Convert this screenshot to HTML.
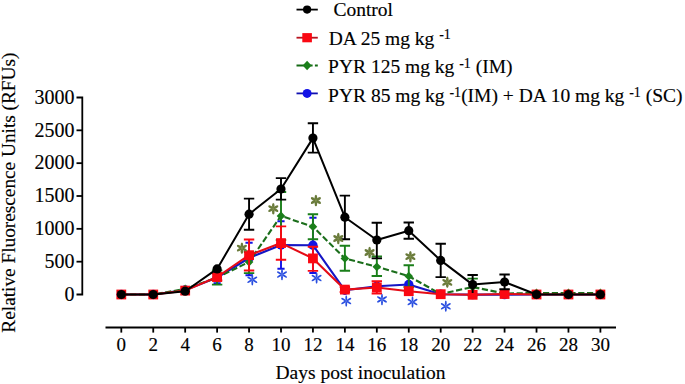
<!DOCTYPE html>
<html><head><meta charset="utf-8"><style>
html,body{margin:0;padding:0;background:#fff;}
svg{display:block;}
.t{font-family:"Liberation Serif",serif;font-size:19px;fill:#000;stroke:#000;stroke-width:0.15px;}
.lg{font-size:19.5px;}
.yt{font-size:20px;}
.sup{font-size:14px;}
</style></head><body>
<svg width="685" height="384" viewBox="0 0 685 384">
<path d="M76.5,97.5H82.3V294.5H76.5" stroke="#000" stroke-width="1.8" fill="none"/>
<path d="M76.5,261.67H82.3" stroke="#000" stroke-width="1.8"/>
<path d="M76.5,228.83H82.3" stroke="#000" stroke-width="1.8"/>
<path d="M76.5,196.00H82.3" stroke="#000" stroke-width="1.8"/>
<path d="M76.5,163.17H82.3" stroke="#000" stroke-width="1.8"/>
<path d="M76.5,130.33H82.3" stroke="#000" stroke-width="1.8"/>
<path d="M105.5,327.5H616" stroke="#000" stroke-width="1.8"/>
<path d="M121.30,327.5V332.6" stroke="#000" stroke-width="1.8"/>
<path d="M153.24,327.5V332.6" stroke="#000" stroke-width="1.8"/>
<path d="M185.18,327.5V332.6" stroke="#000" stroke-width="1.8"/>
<path d="M217.12,327.5V332.6" stroke="#000" stroke-width="1.8"/>
<path d="M249.06,327.5V332.6" stroke="#000" stroke-width="1.8"/>
<path d="M281.00,327.5V332.6" stroke="#000" stroke-width="1.8"/>
<path d="M312.94,327.5V332.6" stroke="#000" stroke-width="1.8"/>
<path d="M344.88,327.5V332.6" stroke="#000" stroke-width="1.8"/>
<path d="M376.82,327.5V332.6" stroke="#000" stroke-width="1.8"/>
<path d="M408.76,327.5V332.6" stroke="#000" stroke-width="1.8"/>
<path d="M440.70,327.5V332.6" stroke="#000" stroke-width="1.8"/>
<path d="M472.64,327.5V332.6" stroke="#000" stroke-width="1.8"/>
<path d="M504.58,327.5V332.6" stroke="#000" stroke-width="1.8"/>
<path d="M536.52,327.5V332.6" stroke="#000" stroke-width="1.8"/>
<path d="M568.46,327.5V332.6" stroke="#000" stroke-width="1.8"/>
<path d="M600.40,327.5V332.6" stroke="#000" stroke-width="1.8"/>
<text x="121.30" y="350.6" text-anchor="middle" class="t">0</text>
<text x="153.24" y="350.6" text-anchor="middle" class="t">2</text>
<text x="185.18" y="350.6" text-anchor="middle" class="t">4</text>
<text x="217.12" y="350.6" text-anchor="middle" class="t">6</text>
<text x="249.06" y="350.6" text-anchor="middle" class="t">8</text>
<text x="281.00" y="350.6" text-anchor="middle" class="t">10</text>
<text x="312.94" y="350.6" text-anchor="middle" class="t">12</text>
<text x="344.88" y="350.6" text-anchor="middle" class="t">14</text>
<text x="376.82" y="350.6" text-anchor="middle" class="t">16</text>
<text x="408.76" y="350.6" text-anchor="middle" class="t">18</text>
<text x="440.70" y="350.6" text-anchor="middle" class="t">20</text>
<text x="472.64" y="350.6" text-anchor="middle" class="t">22</text>
<text x="504.58" y="350.6" text-anchor="middle" class="t">24</text>
<text x="536.52" y="350.6" text-anchor="middle" class="t">26</text>
<text x="568.46" y="350.6" text-anchor="middle" class="t">28</text>
<text x="600.40" y="350.6" text-anchor="middle" class="t">30</text>
<text x="74.6" y="300.80" text-anchor="end" class="t yt">0</text>
<text x="74.6" y="267.97" text-anchor="end" class="t yt">500</text>
<text x="74.6" y="235.13" text-anchor="end" class="t yt">1000</text>
<text x="74.6" y="202.30" text-anchor="end" class="t yt">1500</text>
<text x="74.6" y="169.47" text-anchor="end" class="t yt">2000</text>
<text x="74.6" y="136.63" text-anchor="end" class="t yt">2500</text>
<text x="74.6" y="103.80" text-anchor="end" class="t yt">3000</text>
<text x="360.5" y="378.6" text-anchor="middle" class="t lg">Days post inoculation</text>
<text transform="translate(15.4,192.6) rotate(-90)" text-anchor="middle" class="t" style="font-size:19.3px">Relative Fluorescence Units (RFUs)</text>
<polyline points="121.30,294.50 153.24,294.50 185.18,290.00 217.12,277.50 249.06,258.00 281.00,245.00 312.94,245.20 344.88,290.30 376.82,286.30 408.76,284.50 440.70,294.30 472.64,294.60 504.58,294.60 536.52,294.50 568.46,294.50 600.40,294.50" fill="none" stroke="#1616c4" stroke-width="2.1" stroke-linejoin="round"/>
<path d="M217.12,272.00V283.10M213.52,272.00H220.72M213.52,283.10H220.72" stroke="#1212e6" stroke-width="1.9" fill="none"/>
<path d="M249.06,242.70V275.20M245.46,242.70H252.66M245.46,275.20H252.66" stroke="#1212e6" stroke-width="1.9" fill="none"/>
<path d="M281.00,221.25V268.75M277.40,221.25H284.60M277.40,268.75H284.60" stroke="#1212e6" stroke-width="1.9" fill="none"/>
<path d="M312.94,217.80V273.00M309.34,217.80H316.54M309.34,273.00H316.54" stroke="#1212e6" stroke-width="1.9" fill="none"/>
<circle cx="121.30" cy="294.50" r="4.7" fill="#1212e6"/>
<circle cx="153.24" cy="294.50" r="4.7" fill="#1212e6"/>
<circle cx="185.18" cy="290.00" r="4.7" fill="#1212e6"/>
<circle cx="217.12" cy="277.50" r="4.7" fill="#1212e6"/>
<circle cx="249.06" cy="258.00" r="4.7" fill="#1212e6"/>
<circle cx="281.00" cy="245.00" r="4.7" fill="#1212e6"/>
<circle cx="312.94" cy="245.20" r="4.7" fill="#1212e6"/>
<circle cx="344.88" cy="290.30" r="4.7" fill="#1212e6"/>
<circle cx="376.82" cy="286.30" r="4.7" fill="#1212e6"/>
<circle cx="408.76" cy="284.50" r="4.7" fill="#1212e6"/>
<circle cx="440.70" cy="294.30" r="4.7" fill="#1212e6"/>
<circle cx="472.64" cy="294.60" r="4.7" fill="#1212e6"/>
<circle cx="504.58" cy="294.60" r="4.7" fill="#1212e6"/>
<circle cx="536.52" cy="294.50" r="4.7" fill="#1212e6"/>
<circle cx="568.46" cy="294.50" r="4.7" fill="#1212e6"/>
<circle cx="600.40" cy="294.50" r="4.7" fill="#1212e6"/>
<polyline points="121.30,294.50 153.24,294.50 185.18,289.00 217.12,277.50 249.06,262.00 281.00,215.90 312.94,226.70 344.88,258.40 376.82,266.80 408.76,276.20 440.70,294.00 472.64,287.00 504.58,293.50 536.52,293.00 568.46,293.00 600.40,293.00" fill="none" stroke="#1b6e1b" stroke-width="2.1" stroke-dasharray="6.2,2.6" stroke-linejoin="round"/>
<path d="M217.12,270.50V284.60M211.92,270.50H222.32M211.92,284.60H222.32" stroke="#1a7f1a" stroke-width="1.9" fill="none"/>
<path d="M249.06,252.00V273.10M243.86,252.00H254.26M243.86,273.10H254.26" stroke="#1a7f1a" stroke-width="1.9" fill="none"/>
<path d="M281.00,192.00V240.00M275.80,192.00H286.20M275.80,240.00H286.20" stroke="#1a7f1a" stroke-width="1.9" fill="none"/>
<path d="M312.94,214.20V239.20M307.74,214.20H318.14M307.74,239.20H318.14" stroke="#1a7f1a" stroke-width="1.9" fill="none"/>
<path d="M344.88,245.80V270.80M339.68,245.80H350.08M339.68,270.80H350.08" stroke="#1a7f1a" stroke-width="1.9" fill="none"/>
<path d="M376.82,256.50V276.00M371.62,256.50H382.02M371.62,276.00H382.02" stroke="#1a7f1a" stroke-width="1.9" fill="none"/>
<path d="M408.76,265.30V287.00M403.56,265.30H413.96M403.56,287.00H413.96" stroke="#1a7f1a" stroke-width="1.9" fill="none"/>
<path d="M472.64,278.60V295.40M467.44,278.60H477.84M467.44,295.40H477.84" stroke="#1a7f1a" stroke-width="1.9" fill="none"/>
<path d="M121.30,290.10L125.60,294.50L121.30,298.90L117.00,294.50Z" fill="#1a7f1a"/>
<path d="M153.24,290.10L157.54,294.50L153.24,298.90L148.94,294.50Z" fill="#1a7f1a"/>
<path d="M185.18,284.60L189.48,289.00L185.18,293.40L180.88,289.00Z" fill="#1a7f1a"/>
<path d="M217.12,273.10L221.42,277.50L217.12,281.90L212.82,277.50Z" fill="#1a7f1a"/>
<path d="M249.06,257.60L253.36,262.00L249.06,266.40L244.76,262.00Z" fill="#1a7f1a"/>
<path d="M281.00,211.50L285.30,215.90L281.00,220.30L276.70,215.90Z" fill="#1a7f1a"/>
<path d="M312.94,222.30L317.24,226.70L312.94,231.10L308.64,226.70Z" fill="#1a7f1a"/>
<path d="M344.88,254.00L349.18,258.40L344.88,262.80L340.58,258.40Z" fill="#1a7f1a"/>
<path d="M376.82,262.40L381.12,266.80L376.82,271.20L372.52,266.80Z" fill="#1a7f1a"/>
<path d="M408.76,271.80L413.06,276.20L408.76,280.60L404.46,276.20Z" fill="#1a7f1a"/>
<path d="M440.70,289.60L445.00,294.00L440.70,298.40L436.40,294.00Z" fill="#1a7f1a"/>
<path d="M472.64,282.60L476.94,287.00L472.64,291.40L468.34,287.00Z" fill="#1a7f1a"/>
<path d="M504.58,289.10L508.88,293.50L504.58,297.90L500.28,293.50Z" fill="#1a7f1a"/>
<path d="M536.52,288.60L540.82,293.00L536.52,297.40L532.22,293.00Z" fill="#1a7f1a"/>
<path d="M568.46,288.60L572.76,293.00L568.46,297.40L564.16,293.00Z" fill="#1a7f1a"/>
<path d="M600.40,288.60L604.70,293.00L600.40,297.40L596.10,293.00Z" fill="#1a7f1a"/>
<polyline points="121.30,294.50 153.24,294.50 185.18,290.60 217.12,277.00 249.06,255.20 281.00,243.10 312.94,258.40 344.88,289.60 376.82,287.50 408.76,291.20 440.70,294.20 472.64,294.80 504.58,294.00 536.52,294.50 568.46,294.50 600.40,294.50" fill="none" stroke="#e40c16" stroke-width="2.1" stroke-linejoin="round"/>
<path d="M217.12,273.50V280.50M211.92,273.50H222.32M211.92,280.50H222.32" stroke="#fa0812" stroke-width="1.9" fill="none"/>
<path d="M249.06,239.50V270.50M243.86,239.50H254.26M243.86,270.50H254.26" stroke="#fa0812" stroke-width="1.9" fill="none"/>
<path d="M281.00,226.40V259.80M275.80,226.40H286.20M275.80,259.80H286.20" stroke="#fa0812" stroke-width="1.9" fill="none"/>
<path d="M312.94,246.70V270.90M307.74,246.70H318.14M307.74,270.90H318.14" stroke="#fa0812" stroke-width="1.9" fill="none"/>
<path d="M376.82,281.30V293.50M371.62,281.30H382.02M371.62,293.50H382.02" stroke="#fa0812" stroke-width="1.9" fill="none"/>
<path d="M344.88,287.00V292.00M339.68,287.00H350.08M339.68,292.00H350.08" stroke="#fa0812" stroke-width="1.9" fill="none"/>
<rect x="116.40" y="289.60" width="9.8" height="9.8" fill="#fa0812"/>
<rect x="148.34" y="289.60" width="9.8" height="9.8" fill="#fa0812"/>
<rect x="180.28" y="285.70" width="9.8" height="9.8" fill="#fa0812"/>
<rect x="212.22" y="272.10" width="9.8" height="9.8" fill="#fa0812"/>
<rect x="244.16" y="250.30" width="9.8" height="9.8" fill="#fa0812"/>
<rect x="276.10" y="238.20" width="9.8" height="9.8" fill="#fa0812"/>
<rect x="308.04" y="253.50" width="9.8" height="9.8" fill="#fa0812"/>
<rect x="339.98" y="284.70" width="9.8" height="9.8" fill="#fa0812"/>
<rect x="371.92" y="282.60" width="9.8" height="9.8" fill="#fa0812"/>
<rect x="403.86" y="286.30" width="9.8" height="9.8" fill="#fa0812"/>
<rect x="435.80" y="289.30" width="9.8" height="9.8" fill="#fa0812"/>
<rect x="467.74" y="289.90" width="9.8" height="9.8" fill="#fa0812"/>
<rect x="499.68" y="289.10" width="9.8" height="9.8" fill="#fa0812"/>
<rect x="531.62" y="289.60" width="9.8" height="9.8" fill="#fa0812"/>
<rect x="563.56" y="289.60" width="9.8" height="9.8" fill="#fa0812"/>
<rect x="595.50" y="289.60" width="9.8" height="9.8" fill="#fa0812"/>
<polyline points="121.30,294.50 153.24,294.50 185.18,291.20 217.12,268.90 249.06,214.20 281.00,189.00 312.94,138.10 344.88,217.20 376.82,240.00 408.76,230.70 440.70,260.40 472.64,284.60 504.58,282.00 536.52,294.50 568.46,294.50 600.40,294.50" fill="none" stroke="#000" stroke-width="2" stroke-linejoin="round"/>
<path d="M249.06,198.60V229.80M243.86,198.60H254.26M243.86,229.80H254.26" stroke="#000" stroke-width="1.9" fill="none"/>
<path d="M281.00,178.10V199.60M275.80,178.10H286.20M275.80,199.60H286.20" stroke="#000" stroke-width="1.9" fill="none"/>
<path d="M312.94,123.30V152.60M307.74,123.30H318.14M307.74,152.60H318.14" stroke="#000" stroke-width="1.9" fill="none"/>
<path d="M344.88,195.60V239.20M339.68,195.60H350.08M339.68,239.20H350.08" stroke="#000" stroke-width="1.9" fill="none"/>
<path d="M376.82,222.70V258.40M371.62,222.70H382.02M371.62,258.40H382.02" stroke="#000" stroke-width="1.9" fill="none"/>
<path d="M408.76,222.50V238.70M403.56,222.50H413.96M403.56,238.70H413.96" stroke="#000" stroke-width="1.9" fill="none"/>
<path d="M440.70,243.80V277.10M435.50,243.80H445.90M435.50,277.10H445.90" stroke="#000" stroke-width="1.9" fill="none"/>
<path d="M472.64,275.00V293.00M467.44,275.00H477.84" stroke="#000" stroke-width="1.9" fill="none"/>
<path d="M504.58,274.50V289.20M499.38,274.50H509.78M499.38,289.20H509.78" stroke="#000" stroke-width="1.9" fill="none"/>
<circle cx="121.30" cy="294.50" r="4.6" fill="#000"/>
<circle cx="153.24" cy="294.50" r="4.6" fill="#000"/>
<circle cx="185.18" cy="291.20" r="4.6" fill="#000"/>
<circle cx="217.12" cy="268.90" r="4.6" fill="#000"/>
<circle cx="249.06" cy="214.20" r="4.6" fill="#000"/>
<circle cx="281.00" cy="189.00" r="4.6" fill="#000"/>
<circle cx="312.94" cy="138.10" r="4.6" fill="#000"/>
<circle cx="344.88" cy="217.20" r="4.6" fill="#000"/>
<circle cx="376.82" cy="240.00" r="4.6" fill="#000"/>
<circle cx="408.76" cy="230.70" r="4.6" fill="#000"/>
<circle cx="440.70" cy="260.40" r="4.6" fill="#000"/>
<circle cx="472.64" cy="284.60" r="4.6" fill="#000"/>
<circle cx="504.58" cy="282.00" r="4.6" fill="#000"/>
<circle cx="536.52" cy="294.50" r="4.6" fill="#000"/>
<circle cx="568.46" cy="294.50" r="4.6" fill="#000"/>
<circle cx="600.40" cy="294.50" r="4.6" fill="#000"/>
<g transform="translate(241.90,248.20)" fill="#6a7b3b"><ellipse cx="3.0" cy="0" rx="2.75" ry="1.3" transform="rotate(-90)"/><ellipse cx="3.0" cy="0" rx="2.75" ry="1.3" transform="rotate(-30)"/><ellipse cx="3.0" cy="0" rx="2.75" ry="1.3" transform="rotate(30)"/><ellipse cx="3.0" cy="0" rx="2.75" ry="1.3" transform="rotate(90)"/><ellipse cx="3.0" cy="0" rx="2.75" ry="1.3" transform="rotate(150)"/><ellipse cx="3.0" cy="0" rx="2.75" ry="1.3" transform="rotate(210)"/><circle r="1.1" fill="#7d8f4c"/></g>
<g transform="translate(273.30,208.70)" fill="#6a7b3b"><ellipse cx="3.0" cy="0" rx="2.75" ry="1.3" transform="rotate(-90)"/><ellipse cx="3.0" cy="0" rx="2.75" ry="1.3" transform="rotate(-30)"/><ellipse cx="3.0" cy="0" rx="2.75" ry="1.3" transform="rotate(30)"/><ellipse cx="3.0" cy="0" rx="2.75" ry="1.3" transform="rotate(90)"/><ellipse cx="3.0" cy="0" rx="2.75" ry="1.3" transform="rotate(150)"/><ellipse cx="3.0" cy="0" rx="2.75" ry="1.3" transform="rotate(210)"/><circle r="1.1" fill="#7d8f4c"/></g>
<g transform="translate(315.90,200.50)" fill="#6a7b3b"><ellipse cx="3.0" cy="0" rx="2.75" ry="1.3" transform="rotate(-90)"/><ellipse cx="3.0" cy="0" rx="2.75" ry="1.3" transform="rotate(-30)"/><ellipse cx="3.0" cy="0" rx="2.75" ry="1.3" transform="rotate(30)"/><ellipse cx="3.0" cy="0" rx="2.75" ry="1.3" transform="rotate(90)"/><ellipse cx="3.0" cy="0" rx="2.75" ry="1.3" transform="rotate(150)"/><ellipse cx="3.0" cy="0" rx="2.75" ry="1.3" transform="rotate(210)"/><circle r="1.1" fill="#7d8f4c"/></g>
<g transform="translate(338.30,238.50)" fill="#6a7b3b"><ellipse cx="3.0" cy="0" rx="2.75" ry="1.3" transform="rotate(-90)"/><ellipse cx="3.0" cy="0" rx="2.75" ry="1.3" transform="rotate(-30)"/><ellipse cx="3.0" cy="0" rx="2.75" ry="1.3" transform="rotate(30)"/><ellipse cx="3.0" cy="0" rx="2.75" ry="1.3" transform="rotate(90)"/><ellipse cx="3.0" cy="0" rx="2.75" ry="1.3" transform="rotate(150)"/><ellipse cx="3.0" cy="0" rx="2.75" ry="1.3" transform="rotate(210)"/><circle r="1.1" fill="#7d8f4c"/></g>
<g transform="translate(369.60,252.50)" fill="#6a7b3b"><ellipse cx="3.0" cy="0" rx="2.75" ry="1.3" transform="rotate(-90)"/><ellipse cx="3.0" cy="0" rx="2.75" ry="1.3" transform="rotate(-30)"/><ellipse cx="3.0" cy="0" rx="2.75" ry="1.3" transform="rotate(30)"/><ellipse cx="3.0" cy="0" rx="2.75" ry="1.3" transform="rotate(90)"/><ellipse cx="3.0" cy="0" rx="2.75" ry="1.3" transform="rotate(150)"/><ellipse cx="3.0" cy="0" rx="2.75" ry="1.3" transform="rotate(210)"/><circle r="1.1" fill="#7d8f4c"/></g>
<g transform="translate(410.40,256.70)" fill="#6a7b3b"><ellipse cx="3.0" cy="0" rx="2.75" ry="1.3" transform="rotate(-90)"/><ellipse cx="3.0" cy="0" rx="2.75" ry="1.3" transform="rotate(-30)"/><ellipse cx="3.0" cy="0" rx="2.75" ry="1.3" transform="rotate(30)"/><ellipse cx="3.0" cy="0" rx="2.75" ry="1.3" transform="rotate(90)"/><ellipse cx="3.0" cy="0" rx="2.75" ry="1.3" transform="rotate(150)"/><ellipse cx="3.0" cy="0" rx="2.75" ry="1.3" transform="rotate(210)"/><circle r="1.1" fill="#7d8f4c"/></g>
<g transform="translate(447.30,282.30)" fill="#6a7b3b"><ellipse cx="3.0" cy="0" rx="2.75" ry="1.3" transform="rotate(-90)"/><ellipse cx="3.0" cy="0" rx="2.75" ry="1.3" transform="rotate(-30)"/><ellipse cx="3.0" cy="0" rx="2.75" ry="1.3" transform="rotate(30)"/><ellipse cx="3.0" cy="0" rx="2.75" ry="1.3" transform="rotate(90)"/><ellipse cx="3.0" cy="0" rx="2.75" ry="1.3" transform="rotate(150)"/><ellipse cx="3.0" cy="0" rx="2.75" ry="1.3" transform="rotate(210)"/><circle r="1.1" fill="#7d8f4c"/></g>
<g transform="translate(252.30,279.80)" fill="#2a4fe0"><ellipse cx="3.0" cy="0" rx="2.75" ry="0.95" transform="rotate(-90)"/><ellipse cx="3.0" cy="0" rx="2.75" ry="0.95" transform="rotate(-30)"/><ellipse cx="3.0" cy="0" rx="2.75" ry="0.95" transform="rotate(30)"/><ellipse cx="3.0" cy="0" rx="2.75" ry="0.95" transform="rotate(90)"/><ellipse cx="3.0" cy="0" rx="2.75" ry="0.95" transform="rotate(150)"/><ellipse cx="3.0" cy="0" rx="2.75" ry="0.95" transform="rotate(210)"/><circle r="1.1" fill="#4d6ae6"/></g>
<g transform="translate(282.00,274.50)" fill="#2a4fe0"><ellipse cx="3.0" cy="0" rx="2.75" ry="0.95" transform="rotate(-90)"/><ellipse cx="3.0" cy="0" rx="2.75" ry="0.95" transform="rotate(-30)"/><ellipse cx="3.0" cy="0" rx="2.75" ry="0.95" transform="rotate(30)"/><ellipse cx="3.0" cy="0" rx="2.75" ry="0.95" transform="rotate(90)"/><ellipse cx="3.0" cy="0" rx="2.75" ry="0.95" transform="rotate(150)"/><ellipse cx="3.0" cy="0" rx="2.75" ry="0.95" transform="rotate(210)"/><circle r="1.1" fill="#4d6ae6"/></g>
<g transform="translate(316.60,278.00)" fill="#2a4fe0"><ellipse cx="3.0" cy="0" rx="2.75" ry="0.95" transform="rotate(-90)"/><ellipse cx="3.0" cy="0" rx="2.75" ry="0.95" transform="rotate(-30)"/><ellipse cx="3.0" cy="0" rx="2.75" ry="0.95" transform="rotate(30)"/><ellipse cx="3.0" cy="0" rx="2.75" ry="0.95" transform="rotate(90)"/><ellipse cx="3.0" cy="0" rx="2.75" ry="0.95" transform="rotate(150)"/><ellipse cx="3.0" cy="0" rx="2.75" ry="0.95" transform="rotate(210)"/><circle r="1.1" fill="#4d6ae6"/></g>
<g transform="translate(346.25,301.00)" fill="#2a4fe0"><ellipse cx="3.0" cy="0" rx="2.75" ry="0.95" transform="rotate(-90)"/><ellipse cx="3.0" cy="0" rx="2.75" ry="0.95" transform="rotate(-30)"/><ellipse cx="3.0" cy="0" rx="2.75" ry="0.95" transform="rotate(30)"/><ellipse cx="3.0" cy="0" rx="2.75" ry="0.95" transform="rotate(90)"/><ellipse cx="3.0" cy="0" rx="2.75" ry="0.95" transform="rotate(150)"/><ellipse cx="3.0" cy="0" rx="2.75" ry="0.95" transform="rotate(210)"/><circle r="1.1" fill="#4d6ae6"/></g>
<g transform="translate(382.00,299.40)" fill="#2a4fe0"><ellipse cx="3.0" cy="0" rx="2.75" ry="0.95" transform="rotate(-90)"/><ellipse cx="3.0" cy="0" rx="2.75" ry="0.95" transform="rotate(-30)"/><ellipse cx="3.0" cy="0" rx="2.75" ry="0.95" transform="rotate(30)"/><ellipse cx="3.0" cy="0" rx="2.75" ry="0.95" transform="rotate(90)"/><ellipse cx="3.0" cy="0" rx="2.75" ry="0.95" transform="rotate(150)"/><ellipse cx="3.0" cy="0" rx="2.75" ry="0.95" transform="rotate(210)"/><circle r="1.1" fill="#4d6ae6"/></g>
<g transform="translate(412.50,302.00)" fill="#2a4fe0"><ellipse cx="3.0" cy="0" rx="2.75" ry="0.95" transform="rotate(-90)"/><ellipse cx="3.0" cy="0" rx="2.75" ry="0.95" transform="rotate(-30)"/><ellipse cx="3.0" cy="0" rx="2.75" ry="0.95" transform="rotate(30)"/><ellipse cx="3.0" cy="0" rx="2.75" ry="0.95" transform="rotate(90)"/><ellipse cx="3.0" cy="0" rx="2.75" ry="0.95" transform="rotate(150)"/><ellipse cx="3.0" cy="0" rx="2.75" ry="0.95" transform="rotate(210)"/><circle r="1.1" fill="#4d6ae6"/></g>
<g transform="translate(445.80,306.25)" fill="#2a4fe0"><ellipse cx="3.0" cy="0" rx="2.75" ry="0.95" transform="rotate(-90)"/><ellipse cx="3.0" cy="0" rx="2.75" ry="0.95" transform="rotate(-30)"/><ellipse cx="3.0" cy="0" rx="2.75" ry="0.95" transform="rotate(30)"/><ellipse cx="3.0" cy="0" rx="2.75" ry="0.95" transform="rotate(90)"/><ellipse cx="3.0" cy="0" rx="2.75" ry="0.95" transform="rotate(150)"/><ellipse cx="3.0" cy="0" rx="2.75" ry="0.95" transform="rotate(210)"/><circle r="1.1" fill="#4d6ae6"/></g>
<path d="M296.5,9.6H317.8" stroke="#000" stroke-width="1.8"/><circle cx="307.1" cy="9.6" r="4.1" fill="#000"/>
<path d="M296.5,37.7H317.8" stroke="#b81420" stroke-width="1.8"/><rect x="302.3" y="33.1" width="9.6" height="9.2" fill="#fa0812"/>
<path d="M296.5,65.5H312.6M314.9,65.5H317.8" stroke="#146a14" stroke-width="1.8"/><path d="M307.1,60.8L311.5,65.5L307.1,70.2L302.70000000000005,65.5Z" fill="#1a7f1a"/>
<path d="M296.5,93.4H317.8" stroke="#1010b0" stroke-width="1.8"/><circle cx="307.1" cy="93.4" r="4.5" fill="#1212e6"/>
<text x="333.4" y="16.0" class="t lg">Control</text>
<text x="328.7" y="45.0" class="t lg">DA 25 mg kg <tspan class="sup" dy="-5.6">-1</tspan></text>
<text x="328.1" y="73.3" class="t lg">PYR 125 mg kg <tspan class="sup" dy="-5.6">-1</tspan><tspan dy="5.6"> (IM)</tspan></text>
<text x="328.1" y="102.2" class="t lg">PYR 85 mg kg <tspan class="sup" dy="-5.6">-1</tspan><tspan dy="5.6">(IM) + DA 10 mg kg </tspan><tspan class="sup" dy="-5.6">-1</tspan><tspan dy="5.6"> (SC)</tspan></text>
</svg>
</body></html>
